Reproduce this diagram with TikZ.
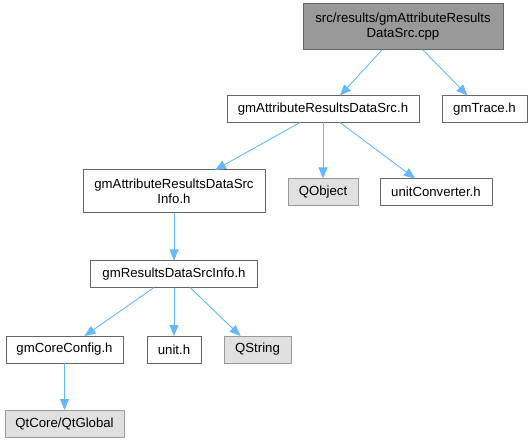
\documentclass[tikz,border=0pt]{standalone}
\usepackage{fontspec}
\setmainfont{Liberation Sans}
\usetikzlibrary{arrows.meta}
\definecolor{edgeblue}{HTML}{63B8FF}
\definecolor{darkfill}{HTML}{999999}
\definecolor{darkline}{HTML}{666666}
\definecolor{lightfill}{HTML}{E0E0E0}
\definecolor{lightline}{HTML}{999999}
\begin{document}
\begin{tikzpicture}[x=1pt,y=-1pt,
  box/.style={draw=darkline,fill=white,line width=1pt,inner sep=0pt,outer sep=0pt,
    minimum height=27pt,align=center,font=\fontsize{13.2}{15}\selectfont},
  mainbox/.style={box,fill=darkfill,draw=darkline},
  extbox/.style={box,fill=lightfill,draw=lightline},
  dep/.style={draw=edgeblue,line width=0.9pt,-{Triangle[length=11pt,width=9pt]}}]
\useasboundingbox (0,0) rectangle (532,443);
\node[mainbox,minimum width=200pt,minimum height=46pt] (top) at (403,27) {src/results/gmAttributeResults\\DataSrc.cpp};
\node[box,minimum width=192pt] (attr) at (323,109) {gmAttributeResultsDataSrc.h};
\node[box,minimum width=85pt] (trace) at (484.5,109) {gmTrace.h};
\node[box,minimum width=182pt,minimum height=43pt] (info) at (174,191.5) {gmAttributeResultsDataSrc\\Info.h};
\node[extbox,minimum width=70pt] (qobject) at (323,192) {QObject};
\node[box,minimum width=112pt] (unitconv) at (436,192) {unitConverter.h};
\node[box,minimum width=167pt] (results) at (174,274) {gmResultsDataSrcInfo.h};
\node[box,minimum width=117pt] (core) at (64.5,349.5) {gmCoreConfig.h};
\node[box,minimum width=54pt] (unit) at (174,349.5) {unit.h};
\node[extbox,minimum width=67pt] (qstring) at (257.5,349.5) {QString};
\node[extbox,minimum width=119pt] (qtglobal) at (64.5,423.5) {QtCore/QtGlobal};
\draw[dep] ([xshift=-21pt]top.south) -- ([xshift=17pt]attr.north);
\draw[dep] ([xshift=20pt]top.south) -- ([xshift=-17pt]trace.north);
\draw[dep] ([xshift=-23pt]attr.south) -- ([xshift=41pt]info.north);
\draw[dep] (attr.south) -- (qobject.north);
\draw[dep] ([xshift=17pt]attr.south) -- ([xshift=-21pt]unitconv.north);
\draw[dep] (info.south) -- (results.north);
\draw[dep] ([xshift=-20pt]results.south) -- ([xshift=20pt]core.north);
\draw[dep] (results.south) -- (unit.north);
\draw[dep] ([xshift=16pt]results.south) -- ([xshift=-17pt]qstring.north);
\draw[dep] (core.south) -- (qtglobal.north);
\end{tikzpicture}
\end{document}
